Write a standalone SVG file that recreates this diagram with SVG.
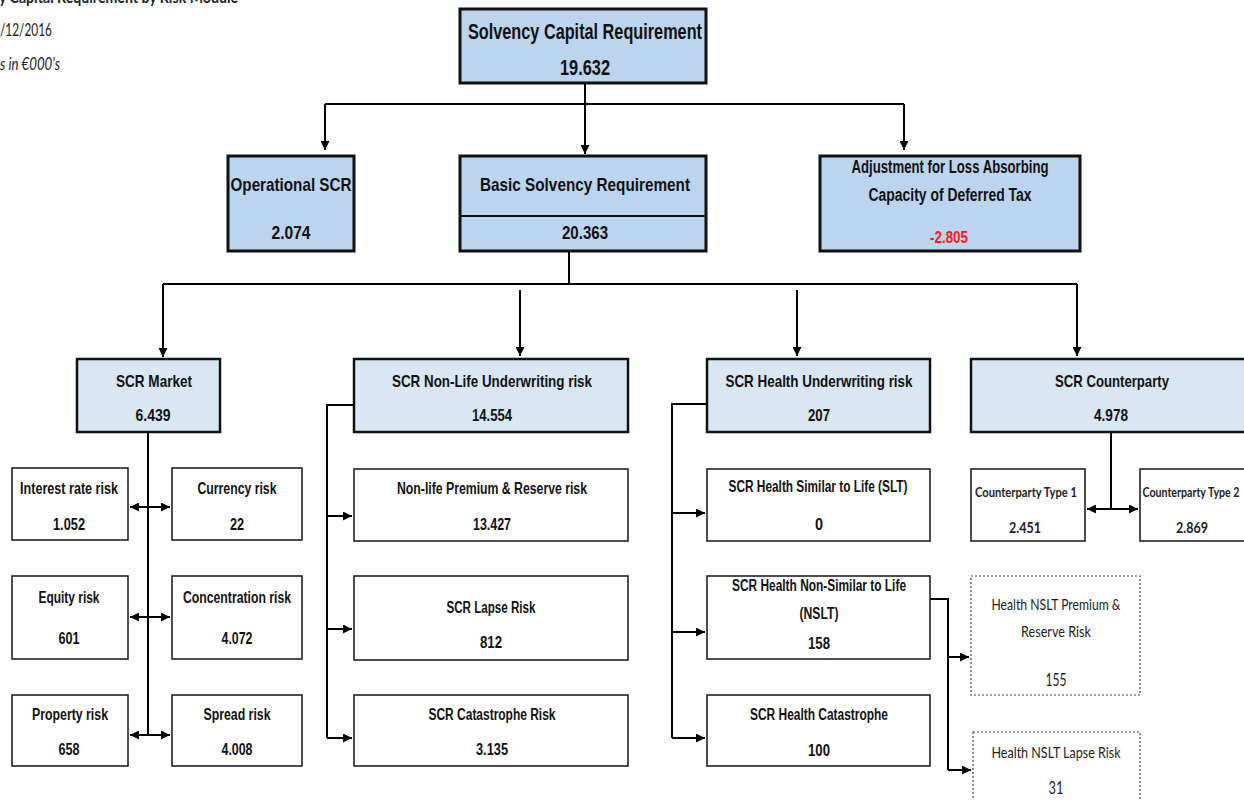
<svg xmlns="http://www.w3.org/2000/svg" width="1244" height="800" viewBox="0 0 1244 800">
<defs>
<marker id="ah" viewBox="0 0 10 10" refX="10" refY="5" markerWidth="4.5" markerHeight="4.5" markerUnits="strokeWidth" orient="auto-start-reverse">
<path d="M0,0 L10,5 L0,10 z" fill="#000"/>
</marker>
<style>
.t{font-family:"Liberation Sans Narrow","Liberation Sans",Arial,sans-serif;font-weight:bold;fill:#111;text-anchor:middle}
.c{font-family:Lato,"Open Sans","Liberation Sans",sans-serif;fill:#222;text-anchor:middle}
.b1{fill:#bcd5ee;stroke:#111;stroke-width:3}
.b2{fill:#d9e7f5;stroke:#111;stroke-width:2.5}
.b3{fill:#fff;stroke:#222;stroke-width:1.6}
.bd{fill:#fff;stroke:#444;stroke-width:1.2;stroke-dasharray:2 2}
.ln{fill:none;stroke:#000;stroke-width:2}
.ar{fill:none;stroke:#000;stroke-width:2;marker-end:url(#ah)}
.da{fill:none;stroke:#000;stroke-width:2;marker-start:url(#ah);marker-end:url(#ah)}
</style>
</defs>
<rect width="1244" height="800" fill="#fff"/>

<g id="header">
<text x="-1" y="3" class="c" style="text-anchor:start;font-weight:bold;font-size:17px" textLength="239" lengthAdjust="spacingAndGlyphs">y Capital Requirement by Risk Module</text>
<text x="0" y="36" class="c" style="text-anchor:start;font-size:17px" textLength="52" lengthAdjust="spacingAndGlyphs">/12/2016</text>
<text x="0" y="70" class="c" style="text-anchor:start;font-size:17px;font-style:italic" textLength="60" lengthAdjust="spacingAndGlyphs">s in €000's</text>
</g>

<g id="connectors">
<path class="ln" d="M585,83 V104 M325,104 H904"/>
<path class="ar" d="M325,104 V150"/>
<path class="ar" d="M585,83 V154"/>
<path class="ar" d="M904,104 V150"/>
<path class="ln" d="M569,251 V284 M163,284 H1077"/>
<path class="ar" d="M163,284 V357"/>
<path class="ar" d="M520,290 V356"/>
<path class="ar" d="M797,290 V356"/>
<path class="ar" d="M1077,284 V356"/>
<path class="ln" d="M148,432 V735"/>
<path class="da" d="M130,507 H170"/>
<path class="da" d="M130,617 H170"/>
<path class="da" d="M130,735 H170"/>
<path class="ln" d="M354,405 H327 V738"/>
<path class="ar" d="M327,516 H352"/>
<path class="ar" d="M327,629 H352"/>
<path class="ar" d="M327,738 H352"/>
<path class="ln" d="M707,404 H672 V738"/>
<path class="ar" d="M672,513 H705"/>
<path class="ar" d="M672,632 H705"/>
<path class="ar" d="M672,738 H705"/>
<path class="ln" d="M930,599 H948 V770"/>
<path class="ar" d="M948,657 H969"/>
<path class="ar" d="M948,770 H971"/>
<path class="ln" d="M1111,432 V509"/>
<path class="da" d="M1087,509 H1138"/>
</g>

<g id="scr">
<rect class="b1" x="460" y="9" width="246" height="74"/>
<text class="t" x="585" y="39" style="font-size:22px" textLength="234" lengthAdjust="spacingAndGlyphs">Solvency Capital Requirement</text>
<text class="t" x="585" y="75" style="font-size:22px" textLength="50" lengthAdjust="spacingAndGlyphs">19.632</text>
</g>
<g id="operational">
<rect class="b1" x="228" y="156" width="126" height="95"/>
<text class="t" x="291" y="191" style="font-size:19px" textLength="121" lengthAdjust="spacingAndGlyphs">Operational SCR</text>
<text class="t" x="291" y="239" style="font-size:19px" textLength="39" lengthAdjust="spacingAndGlyphs">2.074</text>
</g>
<g id="bsr">
<rect class="b1" x="460" y="156" width="246" height="95"/>
<line x1="460" y1="216" x2="706" y2="216" stroke="#111" stroke-width="2"/>
<text class="t" x="585" y="191" style="font-size:19px" textLength="210" lengthAdjust="spacingAndGlyphs">Basic Solvency Requirement</text>
<text class="t" x="585" y="239" style="font-size:19px" textLength="46" lengthAdjust="spacingAndGlyphs">20.363</text>
</g>
<g id="adjustment">
<rect class="b1" x="820" y="156" width="260" height="95"/>
<text class="t" x="950" y="173" style="font-size:18px" textLength="197" lengthAdjust="spacingAndGlyphs">Adjustment for Loss Absorbing</text>
<text class="t" x="950" y="201" style="font-size:18px" textLength="163" lengthAdjust="spacingAndGlyphs">Capacity of Deferred Tax</text>
<text class="t" x="949" y="243" style="font-size:16px;fill:#ff1a1a" textLength="38" lengthAdjust="spacingAndGlyphs">-2.805</text>
</g>

<g id="market">
<rect class="b2" x="77" y="359" width="143" height="73"/>
<text class="t" x="154" y="387" style="font-size:17px" textLength="76" lengthAdjust="spacingAndGlyphs">SCR Market</text>
<text class="t" x="153" y="421" style="font-size:17px" textLength="35" lengthAdjust="spacingAndGlyphs">6.439</text>
</g>
<g id="nonlife">
<rect class="b2" x="354" y="359" width="274" height="73"/>
<text class="t" x="492" y="387" style="font-size:17px" textLength="200" lengthAdjust="spacingAndGlyphs">SCR Non-Life Underwriting risk</text>
<text class="t" x="492" y="421" style="font-size:17px" textLength="40" lengthAdjust="spacingAndGlyphs">14.554</text>
</g>
<g id="health">
<rect class="b2" x="707" y="359" width="223" height="73"/>
<text class="t" x="819" y="387" style="font-size:17px" textLength="187" lengthAdjust="spacingAndGlyphs">SCR Health Underwriting risk</text>
<text class="t" x="819" y="421" style="font-size:17px" textLength="22" lengthAdjust="spacingAndGlyphs">207</text>
</g>
<g id="counterparty">
<rect class="b2" x="971" y="359" width="280" height="73"/>
<text class="t" x="1112" y="387" style="font-size:17px" textLength="114" lengthAdjust="spacingAndGlyphs">SCR Counterparty</text>
<text class="t" x="1111" y="421" style="font-size:17px" textLength="34" lengthAdjust="spacingAndGlyphs">4.978</text>
</g>

<g id="interest">
<rect class="b3" x="12" y="468" width="116" height="72"/>
<text class="t" x="69" y="494" style="font-size:16px" textLength="98" lengthAdjust="spacingAndGlyphs">Interest rate risk</text>
<text class="t" x="69" y="530" style="font-size:16px" textLength="32" lengthAdjust="spacingAndGlyphs">1.052</text>
</g>
<g id="currency">
<rect class="b3" x="172" y="468" width="130" height="72"/>
<text class="t" x="237" y="494" style="font-size:16px" textLength="79" lengthAdjust="spacingAndGlyphs">Currency risk</text>
<text class="t" x="237" y="530" style="font-size:16px" textLength="14" lengthAdjust="spacingAndGlyphs">22</text>
</g>
<g id="equity">
<rect class="b3" x="12" y="576" width="116" height="83"/>
<text class="t" x="69" y="603" style="font-size:16px" textLength="61" lengthAdjust="spacingAndGlyphs">Equity risk</text>
<text class="t" x="69" y="644" style="font-size:16px" textLength="21" lengthAdjust="spacingAndGlyphs">601</text>
</g>
<g id="concentration">
<rect class="b3" x="172" y="576" width="130" height="83"/>
<text class="t" x="237" y="603" style="font-size:16px" textLength="108" lengthAdjust="spacingAndGlyphs">Concentration risk</text>
<text class="t" x="237" y="644" style="font-size:16px" textLength="31" lengthAdjust="spacingAndGlyphs">4.072</text>
</g>
<g id="property">
<rect class="b3" x="12" y="695" width="116" height="71"/>
<text class="t" x="70" y="720" style="font-size:16px" textLength="76" lengthAdjust="spacingAndGlyphs">Property risk</text>
<text class="t" x="69" y="755" style="font-size:16px" textLength="21" lengthAdjust="spacingAndGlyphs">658</text>
</g>
<g id="spread">
<rect class="b3" x="172" y="695" width="130" height="71"/>
<text class="t" x="237" y="720" style="font-size:16px" textLength="67" lengthAdjust="spacingAndGlyphs">Spread risk</text>
<text class="t" x="237" y="755" style="font-size:16px" textLength="31" lengthAdjust="spacingAndGlyphs">4.008</text>
</g>

<g id="nl-premium">
<rect class="b3" x="354" y="469" width="274" height="72"/>
<text class="t" x="492" y="494" style="font-size:16px" textLength="190" lengthAdjust="spacingAndGlyphs">Non-life Premium &amp; Reserve risk</text>
<text class="t" x="492" y="530" style="font-size:16px" textLength="38" lengthAdjust="spacingAndGlyphs">13.427</text>
</g>
<g id="nl-lapse">
<rect class="b3" x="354" y="576" width="274" height="84"/>
<text class="t" x="491" y="613" style="font-size:16px" textLength="89" lengthAdjust="spacingAndGlyphs">SCR Lapse Risk</text>
<text class="t" x="491" y="648" style="font-size:16px" textLength="22" lengthAdjust="spacingAndGlyphs">812</text>
</g>
<g id="nl-cat">
<rect class="b3" x="354" y="695" width="274" height="71"/>
<text class="t" x="492" y="720" style="font-size:16px" textLength="127" lengthAdjust="spacingAndGlyphs">SCR Catastrophe Risk</text>
<text class="t" x="492" y="755" style="font-size:16px" textLength="32" lengthAdjust="spacingAndGlyphs">3.135</text>
</g>

<g id="h-slt">
<rect class="b3" x="707" y="469" width="223" height="72"/>
<text class="t" x="818" y="492" style="font-size:16px" textLength="179" lengthAdjust="spacingAndGlyphs">SCR Health  Similar to Life (SLT)</text>
<text class="t" x="819" y="530" style="font-size:16px" textLength="8" lengthAdjust="spacingAndGlyphs">0</text>
</g>
<g id="h-nslt">
<rect class="b3" x="707" y="576" width="223" height="83"/>
<text class="t" x="819" y="591" style="font-size:16px" textLength="174" lengthAdjust="spacingAndGlyphs">SCR Health Non-Similar to Life</text>
<text class="t" x="819" y="619" style="font-size:16px" textLength="39" lengthAdjust="spacingAndGlyphs">(NSLT)</text>
<text class="t" x="819" y="649" style="font-size:16px" textLength="22" lengthAdjust="spacingAndGlyphs">158</text>
</g>
<g id="h-cat">
<rect class="b3" x="707" y="695" width="223" height="71"/>
<text class="t" x="819" y="720" style="font-size:16px" textLength="138" lengthAdjust="spacingAndGlyphs">SCR Health Catastrophe</text>
<text class="t" x="819" y="756" style="font-size:16px" textLength="22" lengthAdjust="spacingAndGlyphs">100</text>
</g>

<g id="nslt-premium">
<rect class="bd" x="971" y="576" width="169" height="119"/>
<text class="c" x="1056" y="610" style="font-size:15px" textLength="129" lengthAdjust="spacingAndGlyphs">Health NSLT Premium &amp;</text>
<text class="c" x="1056" y="637" style="font-size:15px" textLength="70" lengthAdjust="spacingAndGlyphs">Reserve Risk</text>
<text class="c" x="1056" y="686" style="font-size:17px" textLength="21" lengthAdjust="spacingAndGlyphs">155</text>
</g>
<g id="nslt-lapse">
<rect class="bd" x="973" y="732" width="167" height="80"/>
<text class="c" x="1056" y="758" style="font-size:15px" textLength="129" lengthAdjust="spacingAndGlyphs">Health NSLT Lapse Risk</text>
<text class="c" x="1056" y="794" style="font-size:17px" textLength="15" lengthAdjust="spacingAndGlyphs">31</text>
</g>

<g id="cp1">
<rect class="b3" x="971" y="469" width="114" height="72"/>
<text class="c" transform="translate(1026,497) scale(0.8,1)" style="font-size:14px;font-weight:bold">Counterparty Type 1</text>
<text class="c" x="1025" y="533" style="font-size:15px;font-weight:bold" textLength="32" lengthAdjust="spacingAndGlyphs">2.451</text>
</g>
<g id="cp2">
<rect class="b3" x="1140" y="469" width="110" height="72"/>
<text class="c" transform="translate(1191,497) scale(0.76,1)" style="font-size:14px;font-weight:bold">Counterparty Type 2</text>
<text class="c" x="1192" y="533" style="font-size:15px;font-weight:bold" textLength="32" lengthAdjust="spacingAndGlyphs">2.869</text>
</g>
</svg>
